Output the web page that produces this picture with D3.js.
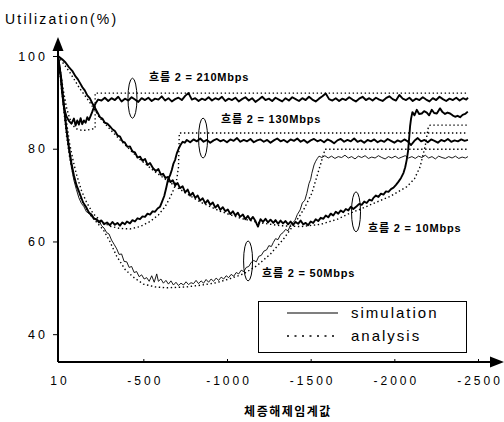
<!DOCTYPE html>
<html>
<head>
<meta charset="utf-8">
<script src="https://cdn.jsdelivr.net/npm/d3@7"></script>
<style>
  body { margin: 0; background: #fff; }
  svg { display: block; }
</style>
</head>
<body>
<div id="chart"></div>
<script>
// tick values and labels
var xTicks = [10, -500, -1000, -1500, -2000, -2500];
var yTicks = [40, 60, 80, 100];
var yTitle = "Utilization(%)";
var xTitle = "체증해제임계값";
var legendNames = ["simulation", "analysis"];
var flowNames = ["흐름 2 = 210Mbps", "흐름 2 = 130Mbps", "흐름 2 = 10Mbps", "흐름 2 = 50Mbps"];

// simulation, flow 2 = 210Mbps
var sim210 = [[10,100],[-5,96],[-15,92],[-25,89],[-40,87],[-55,86],[-70,85.4],[-85,86.5],[-95,85],[-105,86.1],
  [-115,85.2],[-125,86.6],[-135,85.3],[-145,86.1],[-155,85.6],[-165,86.8],[-175,86.2],[-185,87.1],[-195,88],[-205,89],
  [-215,89.8],[-230,90.6],[-250,90.4],[-270,91.0],[-290,90.3],[-310,90.9],[-330,90.5],[-350,91.2],[-370,90.2],[-390,90.8],
  [-410,90.4],[-430,91.1],[-450,90.6],[-470,90.1],[-490,90.9],[-510,90.5],[-530,91.0],[-550,90.3],[-570,90.8],[-590,90.6],
  [-610,91.3],[-630,90.4],[-650,90.9],[-670,90.2],[-690,90.7],[-710,91.0],[-730,90.5],[-750,91.4],[-770,92.0],[-790,90.6],
  [-810,90.9],[-830,90.3],[-850,90.8],[-870,90.5],[-890,91.1],[-910,90.4],[-930,90.9],[-950,90.6],[-970,91.2],[-990,90.3],
  [-1010,90.8],[-1030,90.5],[-1050,91.0],[-1070,90.2],[-1090,90.7],[-1110,91.1],[-1130,90.4],[-1150,90.9],[-1170,90.1],[-1190,90.6],
  [-1210,91.2],[-1230,90.5],[-1250,90.8],[-1270,90.3],[-1290,91.0],[-1310,90.6],[-1330,90.2],[-1350,90.9],[-1370,90.4],[-1390,91.1],
  [-1410,90.7],[-1430,90.3],[-1450,90.9],[-1470,90.5],[-1490,91.2],[-1510,90.6],[-1530,90.2],[-1550,90.8],[-1570,91.3],[-1590,91.9],
  [-1610,90.7],[-1630,90.4],[-1650,90.9],[-1670,90.3],[-1690,90.8],[-1710,90.5],[-1730,91.1],[-1750,90.6],[-1770,90.2],[-1790,90.8],
  [-1810,91.2],[-1830,90.5],[-1850,90.9],[-1870,90.4],[-1890,91.0],[-1910,90.6],[-1930,90.3],[-1950,90.9],[-1970,91.3],[-1990,90.7],
  [-2010,90.4],[-2030,91.6],[-2050,90.8],[-2070,90.5],[-2090,91.0],[-2110,90.3],[-2130,90.8],[-2150,90.5],[-2170,91.1],[-2190,90.6],
  [-2210,90.2],[-2230,90.9],[-2250,90.5],[-2270,91.2],[-2290,90.7],[-2310,90.3],[-2330,90.8],[-2350,90.5],[-2370,91.0],[-2390,90.4],
  [-2410,90.9],[-2430,90.6],[-2440,91.0]];

// simulation, flow 2 = 130Mbps
var sim130 = [[10,100],[-10,95],[-25,89.5],[-40,84.5],[-55,80.5],[-70,77],[-85,74.3],[-100,72.2],[-120,70.3],[-140,68.4],
  [-160,67.3],[-175,66.2],[-190,65.8],[-205,64.9],[-221,64.8],[-235,64.1],[-250,64.5],[-265,63.7],[-283,64.1],[-300,63.5],
  [-315,64.2],[-330,63.6],[-345,64.0],[-360,63.4],[-375,64.1],[-390,63.7],[-402,64.3],[-420,63.9],[-435,64.6],[-450,64.3],
  [-465,65.0],[-480,64.8],[-495,65.4],[-510,65.3],[-525,66.0],[-540,65.8],[-555,66.5],[-570,66.4],[-585,67.1],[-600,67.5],
  [-612,68.6],[-625,69.8],[-637,71.6],[-648,73.4],[-660,74.3],[-670,75.4],[-680,76.8],[-690,77.6],[-700,79.0],[-712,80.1],
  [-722,80.8],[-735,81.5],[-748,81.3],[-760,81.9],[-780,81.4],[-800,82.0],[-820,81.6],[-840,82.2],[-860,81.5],[-880,81.9],
  [-900,81.3],[-920,81.8],[-940,82.1],[-960,81.6],[-980,81.9],[-1000,81.4],[-1020,82.0],[-1040,81.7],[-1060,82.3],[-1080,81.5],
  [-1100,81.9],[-1120,81.6],[-1140,82.1],[-1160,81.4],[-1180,81.8],[-1200,82.0],[-1220,81.5],[-1240,81.9],[-1260,81.3],[-1280,81.8],
  [-1300,82.2],[-1320,81.6],[-1340,81.9],[-1360,81.4],[-1380,82.0],[-1400,81.7],[-1420,82.2],[-1440,81.5],[-1460,81.9],[-1480,81.3],
  [-1500,81.8],[-1520,82.1],[-1540,81.6],[-1560,81.9],[-1580,81.4],[-1600,82.0],[-1620,81.7],[-1640,81.2],[-1660,81.8],[-1680,82.1],
  [-1700,81.5],[-1720,81.9],[-1740,81.6],[-1760,82.2],[-1780,81.5],[-1800,81.8],[-1820,81.3],[-1840,81.9],[-1860,81.6],[-1880,82.0],
  [-1900,81.4],[-1920,81.8],[-1940,81.5],[-1960,82.1],[-1980,81.7],[-2000,81.3],[-2020,81.8],[-2040,81.5],[-2060,82.0],[-2080,81.6],
  [-2100,80.8],[-2120,81.7],[-2140,82.3],[-2160,81.6],[-2180,81.9],[-2200,81.4],[-2220,82.0],[-2240,81.7],[-2260,81.3],[-2280,81.9],
  [-2300,81.6],[-2320,82.1],[-2340,81.5],[-2360,81.8],[-2380,81.6],[-2400,82.0],[-2420,81.7],[-2440,81.9]];

// simulation, flow 2 = 10Mbps
var sim10 = [[10,100],[-15,99.3],[-35,98.6],[-55,97.6],[-75,96.8],[-95,95.6],[-110,94.9],[-121,94.2],[-135,93.3],[-150,92.6],
  [-165,91.5],[-180,90.9],[-195,89.8],[-210,88.9],[-225,87.9],[-241,86.8],[-255,86.5],[-270,85.6],[-285,85.4],[-301,84.8],
  [-315,84.2],[-330,83.8],[-345,82.9],[-361,82.6],[-375,81.6],[-390,81.3],[-405,80.4],[-420,80.5],[-435,79.4],[-450,79.2],
  [-465,78.1],[-480,78.3],[-495,77.4],[-510,77.8],[-525,76.5],[-540,76.9],[-558,75.8],[-575,75.2],[-590,75.6],[-605,74.4],
  [-618,74.6],[-632,73.7],[-648,73.9],[-662,72.8],[-676,73.2],[-690,72.1],[-705,72.6],[-719,71.5],[-735,71.9],[-750,70.6],
  [-765,71.2],[-780,69.9],[-795,70.5],[-810,69.4],[-825,69.9],[-839,68.8],[-855,69.3],[-870,68.2],[-885,68.9],[-900,67.9],
  [-915,68.4],[-930,67.3],[-945,67.9],[-960,66.8],[-975,67.4],[-990,66.5],[-1005,66.9],[-1020,65.9],[-1035,66.5],[-1050,65.6],
  [-1065,66.2],[-1078,65.3],[-1095,65.8],[-1110,64.8],[-1125,65.5],[-1140,64.6],[-1155,65.3],[-1170,64.4],[-1185,63.2],[-1200,64.8],
  [-1215,64.2],[-1230,64.9],[-1245,64.1],[-1260,64.7],[-1277,64.0],[-1290,64.6],[-1305,63.8],[-1320,64.5],[-1335,63.9],[-1350,64.4],
  [-1365,63.7],[-1380,64.3],[-1395,63.6],[-1410,64.2],[-1425,63.8],[-1440,64.5],[-1455,63.7],[-1470,64.0],[-1485,63.5],[-1500,64.3],
  [-1515,64.0],[-1530,64.8],[-1545,64.4],[-1560,65.1],[-1576,64.9],[-1590,65.6],[-1605,65.2],[-1620,66.0],[-1635,65.6],[-1650,66.4],
  [-1665,66.0],[-1680,66.7],[-1695,66.3],[-1710,67.0],[-1725,66.7],[-1740,67.5],[-1755,67.0],[-1775,67.6],[-1790,68.1],[-1805,67.9],
  [-1820,68.6],[-1835,68.3],[-1850,69.0],[-1865,68.8],[-1875,69.4],[-1890,69.9],[-1905,69.6],[-1920,70.3],[-1935,70.1],[-1950,70.8],
  [-1965,70.7],[-1980,71.3],[-1995,71.6],[-2010,72.2],[-2025,72.9],[-2040,73.7],[-2055,74.8],[-2065,76.0],[-2074,77.6],[-2082,79.5],
  [-2088,82.0],[-2094,84.8],[-2100,86.5],[-2108,87.9],[-2120,87.2],[-2134,88.4],[-2148,87.5],[-2164,87.6],[-2178,88.1],[-2194,87.8],
  [-2208,87.2],[-2224,88.4],[-2238,87.7],[-2254,87.6],[-2264,88.2],[-2273,88.7],[-2288,87.9],[-2303,87.5],[-2318,87.8],[-2333,87.6],
  [-2348,87.2],[-2363,86.9],[-2378,87.1],[-2393,86.8],[-2408,87.3],[-2423,87.5],[-2439,88.0]];

// simulation, flow 2 = 50Mbps
var sim50 = [[10,100],[-10,94],[-25,88.5],[-40,83.5],[-55,79.5],[-70,76],[-85,73.2],[-100,71.2],[-115,69.4],[-130,68.2],
  [-145,67.5],[-160,66.4],[-175,66.1],[-190,65.3],[-205,65.2],[-221,64.4],[-235,64.6],[-250,63.4],[-265,62.9],[-281,61.9],
  [-295,61.6],[-310,60.3],[-325,59.4],[-341,58.4],[-355,57.2],[-370,57.3],[-385,55.7],[-401,55.6],[-415,54.4],[-430,54.6],
  [-445,53.3],[-460,53.5],[-475,52.4],[-490,52.8],[-505,51.9],[-520,52.2],[-535,51.4],[-550,52.6],[-565,51.2],[-580,53.0],
  [-590,51.4],[-605,51.9],[-620,51.0],[-635,51.6],[-650,50.8],[-665,51.5],[-680,50.6],[-695,51.2],[-710,50.5],[-725,51.0],
  [-740,50.6],[-755,51.3],[-770,50.7],[-785,51.1],[-800,50.9],[-815,51.6],[-830,50.9],[-845,51.5],[-860,51.0],[-875,51.8],
  [-890,51.2],[-905,51.9],[-920,51.4],[-935,52.1],[-950,51.6],[-965,52.3],[-980,51.9],[-995,52.6],[-1010,52.2],[-1025,52.9],
  [-1040,52.5],[-1055,53.3],[-1070,53.0],[-1085,53.8],[-1100,53.5],[-1115,54.4],[-1130,54.6],[-1145,55.5],[-1160,55.9],[-1175,55.6],
  [-1190,56.8],[-1205,57.0],[-1220,57.9],[-1237,58.2],[-1250,59.1],[-1265,58.9],[-1277,59.8],[-1290,60.6],[-1305,60.4],[-1320,61.5],
  [-1335,61.9],[-1350,62.6],[-1365,62.3],[-1380,63.6],[-1395,64.1],[-1407,64.6],[-1420,65.8],[-1437,66.8],[-1450,68.3],[-1465,68.9],
  [-1477,70.4],[-1490,72.5],[-1500,73.4],[-1507,74.7],[-1520,76.5],[-1530,77.3],[-1540,77.9],[-1550,78.4],[-1567,78.1],[-1585,78.5],
  [-1605,78.0],[-1625,78.4],[-1645,77.9],[-1665,78.3],[-1685,78.1],[-1705,78.6],[-1725,78.0],[-1745,78.3],[-1765,77.8],[-1785,78.4],
  [-1805,78.1],[-1825,78.5],[-1845,77.9],[-1865,78.2],[-1885,78.0],[-1905,78.5],[-1925,78.1],[-1945,77.8],[-1965,78.3],[-1985,78.0],
  [-2005,78.4],[-2025,77.9],[-2045,78.2],[-2065,78.5],[-2085,78.0],[-2105,78.3],[-2125,77.9],[-2145,78.4],[-2165,78.1],[-2185,78.6],
  [-2205,78.0],[-2225,78.3],[-2245,77.8],[-2265,78.4],[-2285,78.1],[-2305,77.9],[-2325,78.3],[-2345,78.0],[-2365,78.4],[-2385,77.9],
  [-2405,78.2],[-2425,78.0],[-2440,78.3]];

// analysis curves
var ana210 = [[10,100],[-20,93],[-40,89],[-60,86.5],[-80,85],[-100,84.3],[-130,84],[-160,84],[-190,84.2],[-212,84.4],
  [-212,92],[-2440,92]];
var ana130 = [[10,100],[-20,92],[-40,86],[-60,81],[-80,77.5],[-100,74.5],[-130,71],[-160,68.5],[-200,66],[-250,64.3],
  [-300,63.3],[-360,62.8],[-420,62.7],[-480,63.2],[-540,64.3],[-590,65.7],[-630,67.5],[-660,69.5],[-685,71.5],[-700,73.5],
  [-710,76],[-715,83.4],[-2440,83.4]];
var ana10 = [[10,100],[-60,96.5],[-120,93],[-180,90],[-241,86.6],[-301,84.2],[-361,81.9],[-420,79.8],[-480,77.7],[-560,75.3],
  [-640,73.2],[-720,71.2],[-840,68.5],[-960,66.5],[-1080,65],[-1200,64],[-1320,63.4],[-1440,63.2],[-1560,63.7],[-1660,64.8],
  [-1735,66.1],[-1800,67],[-1875,68.2],[-1974,69.7],[-2074,71.8],[-2120,73.5],[-2154,76.1],[-2184,80.5],[-2204,84.8],[-2215,85.1],
  [-2440,85.1]];
var ana50 = [[10,100],[-20,90],[-40,83],[-60,78],[-80,74.5],[-100,72],[-130,69],[-160,67],[-200,65],[-261,62.5],
  [-300,60],[-341,56.8],[-390,54],[-440,52.3],[-500,50.8],[-570,50.2],[-640,50],[-759,50.2],[-850,50.6],[-938,51.1],
  [-1020,52],[-1098,53],[-1180,54.8],[-1260,57.3],[-1337,60.5],[-1407,64],[-1460,67],[-1507,70.4],[-1537,74],[-1567,77.6],
  [-1586,79.9],[-2440,79.9]];

// where the flow labels and ellipses sit (data units)
var labelAt = [[-534,95.5],[-964,86.4],[-1843,62.9],[-1209,53.2]];
var ringAt = [[-435,90.9],[-857,82.3],[-1771,66.4],[-1126,55.8]];

var W = 504, H = 422;
var svg = d3.select("#chart").append("svg").attr("width", W).attr("height", H);

var x = d3.scaleLinear().domain([10, -2500]).range([58, 478]);
var y = d3.scaleLinear().domain([34, 100]).range([362, 56]);

var font = "'Liberation Sans', Arial, 'Noto Sans CJK KR', sans-serif";

// x axis
var gx = svg.append("g").attr("transform", "translate(0," + y(34) + ")")
  .call(d3.axisBottom(x).tickValues(xTicks).tickSizeInner(-3).tickSizeOuter(0).tickPadding(14)
    .tickFormat(function(d){ return d === 10 ? "10" : "-" + Math.abs(d); }));
gx.select(".domain").remove();
gx.selectAll(".tick line").attr("stroke", "#000").attr("stroke-width", 1);
gx.selectAll(".tick text").attr("fill", "#000").attr("font-family", font).attr("font-size", 12)
  .attr("dx", 1.5).style("letter-spacing", "3px");

// y axis
var gy = svg.append("g").attr("transform", "translate(" + x(10) + ",0)")
  .call(d3.axisLeft(y).tickValues(yTicks).tickSize(5).tickPadding(5));
gy.select(".domain").remove();
gy.selectAll(".tick line").attr("stroke", "#000").attr("stroke-width", 1);
gy.selectAll(".tick text").attr("fill", "#000").attr("font-family", font).attr("font-size", 12.5)
  .style("letter-spacing", "3px");

// axis lines with arrow heads
var x0 = x(10), yb = y(34);
svg.append("line").attr("x1", x0).attr("y1", yb).attr("x2", x0).attr("y2", 48)
  .attr("stroke", "#000").attr("stroke-width", 2);
svg.append("path").attr("d", "M" + x0 + ",37L" + (x0 - 5.5) + ",51L" + (x0 + 5.5) + ",51Z").attr("fill", "#000");
svg.append("line").attr("x1", x0).attr("y1", yb).attr("x2", 494).attr("y2", yb)
  .attr("stroke", "#000").attr("stroke-width", 2);
svg.append("path").attr("d", "M504," + yb + "L490," + (yb - 5.5) + "L490," + (yb + 5.5) + "Z").attr("fill", "#000");

// titles
svg.append("text").attr("x", 5).attr("y", 24).text(yTitle)
  .attr("font-family", font).attr("font-size", 14).style("letter-spacing", "2.2px").attr("fill", "#000");
svg.append("text").attr("x", 288).attr("y", 416).attr("text-anchor", "middle").text(xTitle)
  .attr("font-family", font).attr("font-size", 12).attr("font-weight", "bold").style("letter-spacing", "1.5px").attr("fill", "#000");

var line = d3.line().x(function(d){ return x(d[0]); }).y(function(d){ return y(d[1]); });

// analysis (dotted)
[ana210, ana130, ana10, ana50].forEach(function(s){
  svg.append("path").datum(s).attr("d", line).attr("fill", "none")
    .attr("stroke", "#000").attr("stroke-width", 1.4).attr("stroke-dasharray", "1.4,2.6");
});

// simulation (solid)
[[sim210, 1.9], [sim130, 1.9], [sim10, 1.9], [sim50, 0.9]].forEach(function(s){
  svg.append("path").datum(s[0]).attr("d", line).attr("fill", "none")
    .attr("stroke", "#000").attr("stroke-width", s[1]).attr("stroke-linejoin", "round");
});

// ellipses and flow labels
ringAt.forEach(function(p){
  svg.append("ellipse").attr("cx", x(p[0])).attr("cy", y(p[1])).attr("rx", 4.5).attr("ry", 20)
    .attr("fill", "none").attr("stroke", "#000").attr("stroke-width", 1);
});
flowNames.forEach(function(t, i){
  svg.append("text").attr("x", x(labelAt[i][0])).attr("y", y(labelAt[i][1])).attr("dy", "0.35em").text(t)
    .attr("font-family", font).attr("font-size", 11).attr("font-weight", "bold")
    .style("letter-spacing", "0.8px").attr("fill", "#000");
});

// legend
var lg = svg.append("g");
lg.append("rect").attr("x", 258.5).attr("y", 301.5).attr("width", 208).attr("height", 51)
  .attr("fill", "#fff").attr("stroke", "#000").attr("stroke-width", 1);
legendNames.forEach(function(t, i){
  var ly = 313 + i * 23;
  lg.append("line").attr("x1", 287).attr("x2", 338).attr("y1", ly).attr("y2", ly)
    .attr("stroke", "#000").attr("stroke-width", i === 0 ? 1.2 : 1.5)
    .attr("stroke-dasharray", i === 0 ? null : "2,5.5");
  lg.append("text").attr("x", 351).attr("y", ly).attr("dy", "0.35em").text(t)
    .attr("font-family", font).attr("font-size", 15).style("letter-spacing", "2px").attr("fill", "#000");
});
</script>
</body>
</html>
